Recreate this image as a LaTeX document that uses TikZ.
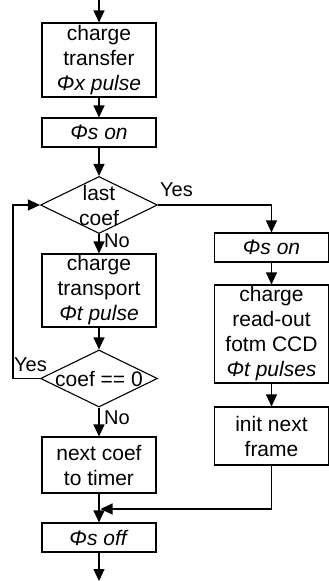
\documentclass[tikz,border=0pt]{standalone}
\usepackage{fontspec}
\setmainfont{Liberation Sans}
\usetikzlibrary{arrows.meta,shapes.geometric}
\begin{document}
\begin{tikzpicture}[x=1pt,y=-1pt,
  every node/.style={font=\fontsize{21}{25}\selectfont},
  proc/.style={draw,line width=1.1pt,minimum width=114pt,inner sep=0pt,align=center},
  dec/.style={draw,line width=1.1pt,diamond,minimum width=117pt,minimum height=57pt,inner sep=0pt},
  lbl/.style={font=\fontsize{20}{22}\selectfont,inner sep=0pt},
  conn/.style={line width=1.1pt,-{Triangle[length=12pt,width=11pt]}}]
\useasboundingbox (0,0) rectangle (329,581);
% left column
\coordinate (top) at (99,0);
\node[proc,minimum height=74pt] (b1) at (99,60) {charge\\transfer\\\textit{Φx pulse}};
\node[proc,minimum height=29pt] (b2) at (99,132.5) {\textit{Φs on}};
\node[dec] (d1) at (99,205) {};
\node[align=center,inner sep=0pt] (t1) at (d1) {last\\coef};
\node[proc,minimum height=73pt] (b3) at (99,290.5) {charge\\transport\\\textit{Φt pulse}};
\node[dec] (d2) at (99,378.5) {};
\node[inner sep=0pt] (t2) at (d2) {coef == 0};
\node[proc,minimum height=56pt] (b4) at (99,465) {next coef\\to timer};
\node[proc,minimum height=29pt] (b5) at (99,537.5) {\textit{Φs off}};
\coordinate (bot) at (99,581);
% right column
\node[proc,minimum height=29pt] (r1) at (271.5,247.5) {\textit{Φs on}};
\node[proc,minimum height=98pt] (r2) at (271.5,334) {charge\\read-out\\fotm CCD\\\textit{Φt pulses}};
\node[proc,minimum height=58pt] (r3) at (271.5,436) {init next\\frame};
% helper coordinates
\coordinate (c1) at (271.5,205);
\coordinate (c2) at (271.5,509);
\coordinate (c3) at (100.5,509);
\coordinate (c4) at (13,378.5);
\coordinate (c5) at (13,205);
% connectors
\draw[conn] (top) -- (b1.north);
\draw[conn] (b1) -- (b2);
\draw[conn] (b2) -- (d1.north);
\draw[conn] (d1.south) -- (b3.north);
\draw[conn] (b3) -- (d2.north);
\draw[conn] (d2.south) -- (b4.north);
\draw[conn] (b4) -- (b5);
\draw[conn] (b5) -- (bot);
\draw[conn] (d1.east) -- (c1) -- (r1.north);
\draw[conn] (r1) -- (r2);
\draw[conn] (r2) -- (r3);
\draw[conn] (r3.south) -- (c2) -- (c3);
\draw[conn] (d2.west) -- (c4) -- (c5) -- (d1.west);
% labels
\node[lbl,anchor=west] (n1) at (104,241) {No};
\node[lbl,anchor=west] (n2) at (104,418) {No};
\node[lbl,anchor=west] (y1) at (160,190) {Yes};
\node[lbl,anchor=west] (y2) at (14,365) {Yes};
\end{tikzpicture}
\end{document}
